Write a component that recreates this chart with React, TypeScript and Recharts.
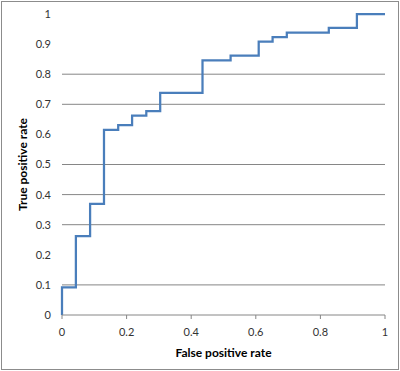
import React from 'react';
import { LineChart, Line, XAxis, YAxis, CartesianGrid, Label } from 'recharts';

// ROC curve points (false positive rate, true positive rate)
const fpr = [0, 0, 0.043, 0.087, 0.13, 0.174, 0.217, 0.261, 0.304, 0.435, 0.522, 0.609, 0.652, 0.696, 0.826, 0.913, 1];
const tpr = [0, 0.092, 0.262, 0.369, 0.615, 0.631, 0.662, 0.677, 0.738, 0.846, 0.862, 0.908, 0.923, 0.938, 0.954, 1, 1];

const xTicks = [0, 0.2, 0.4, 0.6, 0.8, 1];
const yTicks = [0, 0.1, 0.2, 0.3, 0.4, 0.5, 0.6, 0.7, 0.8, 0.9, 1];
// only these gridlines survive in the reference picture
const gridValues = [0.1, 0.3, 0.4, 0.5, 0.7, 0.8];

const data = fpr.map((x, i) => ({ fpr: x, tpr: tpr[i] }));

const font = 'Lato, "Open Sans", sans-serif';
const tickStyle = { fill: '#333', fontSize: 11, fontFamily: font };

export default function App() {
  return (
    <div style={{ position: 'absolute', left: 0, top: 0, width: 400, height: 371, background: '#fff' }}>
      <div
        style={{
          position: 'absolute',
          left: 1,
          top: 1,
          width: 398,
          height: 369,
          border: '1px solid #8c8c8c',
          boxSizing: 'border-box',
        }}
      />
      <LineChart
        width={400}
        height={371}
        data={data}
        margin={{ top: 14, right: 15, left: 0, bottom: 0 }}
        style={{ position: 'absolute', left: 0, top: 0 }}
      >
        <CartesianGrid vertical={false} horizontalValues={gridValues} stroke="#868686" />
        <XAxis
          type="number"
          dataKey="fpr"
          domain={[0, 1]}
          ticks={xTicks}
          height={56}
          tick={tickStyle}
          tickSize={4}
          tickMargin={9}
          axisLine={{ stroke: '#868686' }}
          tickLine={{ stroke: '#868686' }}
        >
          <Label
            value="False positive rate"
            position="insideBottom"
            offset={14}
            style={{ fontFamily: font, fontSize: 12, fontWeight: 'bold', fill: '#000' }}
          />
        </XAxis>
        <YAxis
          type="number"
          domain={[0, 1]}
          ticks={yTicks}
          width={62}
          tick={tickStyle}
          tickSize={6}
          tickMargin={5}
          axisLine={false}
          tickLine={false}
        >
          <Label
            content={({ viewBox }: any) => {
              const cx = viewBox.x + 22;
              const cy = viewBox.y + viewBox.height / 2;
              return (
                <text
                  x={cx}
                  y={cy}
                  transform={`rotate(-90, ${cx}, ${cy})`}
                  textAnchor="middle"
                  dominantBaseline="central"
                  style={{ fontFamily: font, fontSize: 12, fontWeight: 'bold', fill: '#000' }}
                >
                  True positive rate
                </text>
              );
            }}
          />
        </YAxis>
        <Line
          type="stepAfter"
          dataKey="tpr"
          stroke="#4a7ebb"
          strokeWidth={2.25}
          dot={false}
          isAnimationActive={false}
        />
      </LineChart>
    </div>
  );
}
